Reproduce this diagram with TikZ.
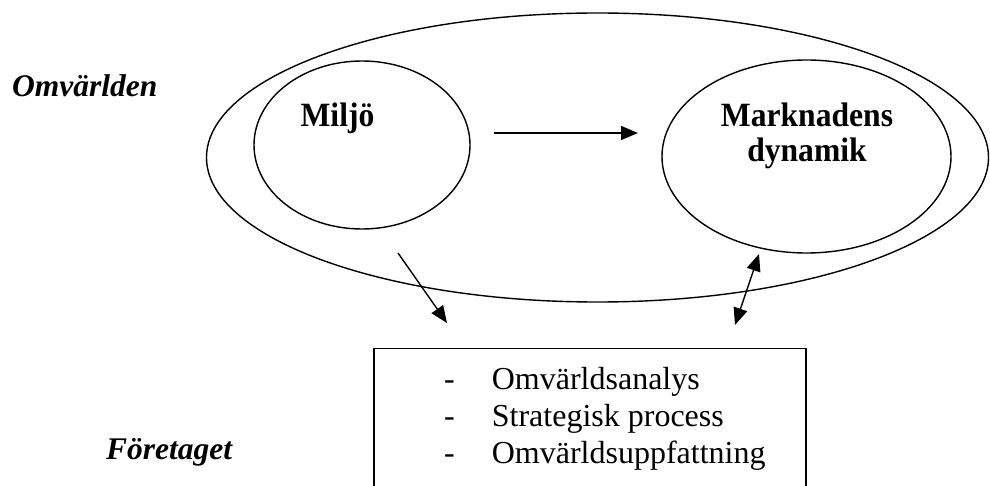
\documentclass[tikz,border=0pt]{standalone}
\usepackage{fontspec}
\usepackage{graphicx}
\setmainfont{Liberation Serif}
\usetikzlibrary{arrows.meta}
\newcommand{\condensed}[1]{\scalebox{0.93}[1]{#1}}
\tikzset{
  shape line/.style={line width=1.4pt},
  conn/.style={line width=1.4pt,-{Triangle[length=17pt,width=14pt]}},
  conn2/.style={line width=1.4pt,{Triangle[length=17pt,width=14pt]}-{Triangle[length=17pt,width=14pt]}},
  bigtext/.style={inner sep=0pt,font=\fontsize{32}{37}\selectfont},
  boldtext/.style={inner sep=0pt,font=\fontsize{34}{35}\selectfont\bfseries},
  itlabel/.style={inner sep=0pt,anchor=base west,font=\fontsize{31.5}{37}\selectfont\bfseries\itshape}
}
\begin{document}
\begin{tikzpicture}[x=1pt,y=-1pt]
\useasboundingbox (0,0) rectangle (990,486);
\clip (0,0) rectangle (990,486);
% ellipses
\draw[shape line] (597.5,157.5) ellipse [x radius=391pt, y radius=144.5pt];
\draw[shape line] (362,145) ellipse [x radius=108pt, y radius=84pt];
\draw[shape line] (806.5,156.5) ellipse [x radius=144.5pt, y radius=96.5pt];
% box
\draw[shape line] (374,348.5) rectangle (806,500);
% labels
\node[itlabel] (omv) at (12,97) {Omvärlden};
\node[itlabel] (for) at (106,459) {Företaget};
\node[boldtext,anchor=base] (miljo) at (337.5,127) {\condensed{Miljö}};
\node[boldtext,anchor=base] (mark) at (807,127) {\begin{tabular}[t]{@{}c@{}}\condensed{Marknadens}\\\condensed{dynamik}\end{tabular}};
\node[bigtext,anchor=base west] (list) at (444,389) {\begin{tabular}[t]{@{}l@{\hspace{37pt}}l@{}}-&Omvärldsanalys\\-&Strategisk process\\-&Omvärldsuppfattning\end{tabular}};
% arrow end points
\coordinate (a1s) at (494,133);
\coordinate (a1e) at (638,133);
\coordinate (a2s) at (398,253);
\coordinate (a2e) at (447,323);
\coordinate (a3s) at (759,254);
\coordinate (a3e) at (735,325);
\draw[conn] (a1s) -- (a1e);
\draw[conn] (a2s) -- (a2e);
\draw[conn2] (a3s) -- (a3e);
\end{tikzpicture}
\end{document}
